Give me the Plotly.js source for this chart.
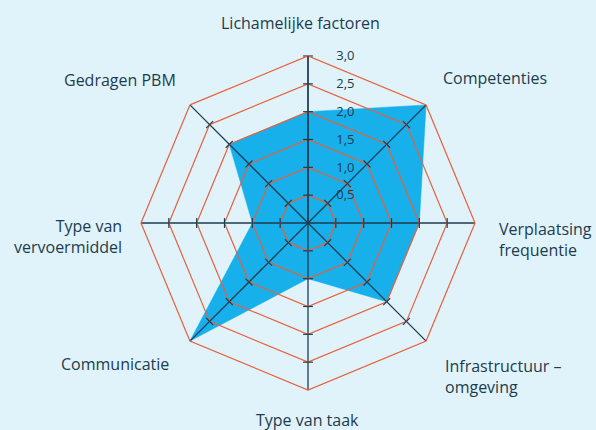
<!DOCTYPE html>
<html><head><meta charset="utf-8">
<script src="https://cdn.plot.ly/plotly-3.0.1.min.js"></script>
<style>html,body{margin:0;padding:0;background:#e0f3fa;}#chart{width:596px;height:430px;}</style>
</head><body><div id="chart"></div>
<script>
const categories = ["Lichamelijke factoren","Competenties","Verplaatsing<br>frequentie","Infrastructuur –<br>omgeving","Type van taak","Communicatie","Type van<br>vervoermiddel","Gedragen PBM"];
const values = [2.0, 3.0, 2.0, 2.0, 1.0, 3.0, 1.0, 2.0];
const radialTicks = [0.5, 1.0, 1.5, 2.0, 2.5, 3.0];

// label placement (pixels in the 596x430 figure) – layout only
const labelPos = [
  {x: 300, y: 23, xa: 'center'},
  {x: 495, y: 78, xa: 'center'},
  {x: 497, y: 239, xa: 'left'},
  {x: 443, y: 376, xa: 'left'},
  {x: 307, y: 420, xa: 'center'},
  {x: 115, y: 364, xa: 'center'},
  {x: 124, y: 236, xa: 'right'},
  {x: 120, y: 80, xa: 'center'}
];

const W = 596, H = 430;
const cx = 308, cy = 223, R = 167;
const textColor = '#1d3b4f';
const gridRed = '#e8603c';

const fillTrace = {
  type: 'scatterpolar', subplot: 'polar',
  r: values.concat([values[0]]), theta: categories.concat([categories[0]]),
  mode: 'lines', fill: 'toself',
  fillcolor: '#17b0eb', line: {color: '#17b0eb', width: 0.5}, hoverinfo: 'skip'
};

// small tick marks across each spoke at every grid level
const tr = [], tt = [], ta = [];
categories.forEach((c, i) => {
  radialTicks.forEach(v => {
    if (v < 3 || i === 0) { tr.push(v); tt.push(c); ta.push(i * 360 / categories.length); }
  });
});
const tickTrace = {
  type: 'scatterpolar', subplot: 'polar2', r: tr, theta: tt, mode: 'markers',
  marker: {symbol: 'line-ew', size: 7, angle: ta, color: textColor, line: {color: textColor, width: 1.2}},
  hoverinfo: 'skip'
};

const hidden = {showgrid: false, showline: false, showticklabels: false, ticks: ''};
const domain = {x: [(cx-R)/W, (cx+R)/W], y: [1-(cy+R)/H, 1-(cy-R)/H]};

const annotations = categories.map((c, i) => ({
  text: c, xref: 'paper', yref: 'paper', x: labelPos[i].x / W, y: 1 - labelPos[i].y / H,
  xanchor: labelPos[i].xa, yanchor: 'middle', align: labelPos[i].xa === 'center' ? 'center' : labelPos[i].xa,
  showarrow: false, font: {size: 16, color: textColor}
}));

const layout = {
  width: W, height: H,
  paper_bgcolor: '#e0f3fa', plot_bgcolor: '#e0f3fa',
  margin: {l: 0, r: 0, t: 0, b: 0},
  showlegend: false,
  separators: ',.',
  font: {family: 'Open Sans, sans-serif', size: 16, color: textColor},
  annotations: annotations,
  polar: {
    bgcolor: 'rgba(0,0,0,0)', domain: domain, gridshape: 'linear',
    angularaxis: Object.assign({direction: 'clockwise', rotation: 90}, hidden),
    radialaxis: Object.assign({range: [0, 3]}, hidden)
  },
  polar2: {
    bgcolor: 'rgba(0,0,0,0)', domain: domain, gridshape: 'linear',
    angularaxis: {
      direction: 'clockwise', rotation: 90,
      showline: true, linecolor: gridRed, linewidth: 1.2,
      showgrid: true, gridcolor: textColor, gridwidth: 1.3,
      ticks: '', showticklabels: false
    },
    radialaxis: {
      range: [0, 3], angle: 90, tickangle: 90, side: 'clockwise',
      tickvals: radialTicks, tickformat: '.1f',
      showline: true, linecolor: textColor, linewidth: 1.3,
      showgrid: true, gridcolor: gridRed, gridwidth: 1.2,
      ticks: 'outside', ticklen: 25, tickcolor: 'rgba(0,0,0,0)',
      tickfont: {size: 13, color: textColor}
    }
  }
};
Plotly.newPlot('chart', [fillTrace, tickTrace], layout, {displayModeBar: false, staticPlot: true});
</script></body></html>
